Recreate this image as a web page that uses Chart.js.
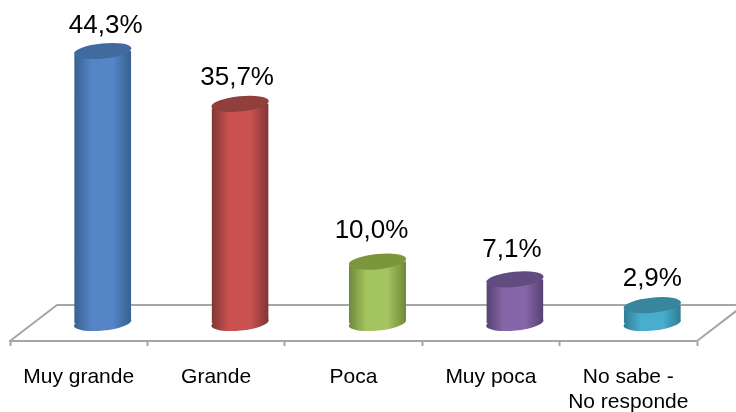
<!DOCTYPE html>
<html>
<head>
<meta charset="utf-8">
<style>html,body{margin:0;padding:0;background:#fff}canvas{display:block}</style>
<script src="https://cdn.jsdelivr.net/npm/chart.js@4/dist/chart.umd.min.js"></script>
</head>
<body>
<canvas id="c" width="736" height="412"></canvas>
<script>
const categories = ["Muy grande", "Grande", "Poca", "Muy poca", ["No sabe -", "No responde"]];
const values = [44.3, 35.7, 10.0, 7.1, 2.9];
const valueLabels = ["44,3%", "35,7%", "10,0%", "7,1%", "2,9%"];

const centerColors = ["#5585c6", "#c95250", "#a3c45e", "#8666a8", "#49aecd"];
const edgeColors   = ["#38608f", "#7f3634", "#6f883b", "#564172", "#2f7d93"];
const topColors    = ["#416b9e", "#913f3d", "#7c963c", "#614c82", "#37869e"];
const labelShiftX  = [3, -3, -6, -3, 0];
const labelGapY    = [25, 26, 31, 30, 26];

const FLOOR_DX = 47, FLOOR_DY = 36;
const BAR_DX = 24, BAR_DY = 18;
const RY = 7.6, TILT = -0.1;
const GRAY = "#a6a6a6";

function cylGradient(c, x, w, i) {
  const g = c.createLinearGradient(x - w / 2, 0, x + w / 2, 0);
  g.addColorStop(0, edgeColors[i]);
  g.addColorStop(0.3, centerColors[i]);
  g.addColorStop(0.68, centerColors[i]);
  g.addColorStop(1, edgeColors[i]);
  return g;
}

const cylinders = {
  id: "cylinders",
  beforeDatasetsDraw(chart) {
    const c = chart.ctx, a = chart.chartArea;
    const els = chart.getDatasetMeta(0).data;
    c.save();
    c.strokeStyle = GRAY; c.lineWidth = 2;
    c.beginPath();
    c.moveTo(a.left, a.bottom);
    c.lineTo(a.left + FLOOR_DX, a.bottom - FLOOR_DY);
    c.lineTo(a.right + FLOOR_DX, a.bottom - FLOOR_DY);
    c.lineTo(a.right, a.bottom);
    c.stroke();
    c.restore();
    c.save();
    c.translate(BAR_DX, -BAR_DY);
    els.forEach((el, i) => {
      const w = el.width;
      c.fillStyle = cylGradient(c, el.x, w, i);
      c.beginPath();
      c.ellipse(el.x, el.base, w / 2 + 0.3, RY, TILT, 0, Math.PI * 2);
      c.fill();
    });
    c.save();
    c.beginPath();
    els.forEach(el => {
      const hw = el.width / 2, d = hw * Math.tan(-TILT);
      c.moveTo(el.x - hw, el.y + d + 1.5);
      c.lineTo(el.x + hw, el.y - d + 1.5);
      c.lineTo(el.x + hw, el.base - d - 1);
      c.lineTo(el.x - hw, el.base + d - 1);
      c.closePath();
    });
    c.clip();
  },
  afterDatasetsDraw(chart) {
    const c = chart.ctx;
    const els = chart.getDatasetMeta(0).data;
    c.restore();
    els.forEach((el, i) => {
      const w = el.width;
      c.fillStyle = topColors[i];
      c.beginPath();
      c.ellipse(el.x, el.y, w / 2 + 0.3, RY, TILT, 0, Math.PI * 2);
      c.fill();
    });
    c.restore();
    c.save();
    c.fillStyle = "#000";
    c.font = "26px 'Liberation Sans', Arial, sans-serif";
    c.textAlign = "center";
    c.textBaseline = "middle";
    els.forEach((el, i) => {
      c.fillText(valueLabels[i], el.x + BAR_DX + labelShiftX[i], el.y - BAR_DY - labelGapY[i]);
    });
    c.restore();
  }
};

new Chart(document.getElementById("c"), {
  type: "bar",
  data: {
    labels: categories,
    datasets: [{
      data: values,
      borderWidth: 0,
      clip: false,
      barPercentage: 0.415,
      categoryPercentage: 1,
      backgroundColor(ctx) {
        const chart = ctx.chart;
        if (!chart.chartArea) return centerColors[ctx.dataIndex];
        const x = chart.scales.x.getPixelForValue(ctx.dataIndex);
        const w = chart.scales.x.width / categories.length * 0.415;
        return cylGradient(chart.ctx, x, w, ctx.dataIndex);
      }
    }]
  },
  options: {
    responsive: false,
    animation: false,
    events: [],
    layout: { padding: { left: 10, right: 39, top: 34, bottom: 0 } },
    plugins: { legend: { display: false }, tooltip: { enabled: false }, title: { display: false } },
    scales: {
      y: { display: false, min: 0, max: 50 },
      x: {
        afterFit(scale) { scale.height = 71; },
        border: { display: true, color: GRAY, width: 2 },
        grid: { display: true, drawOnChartArea: false, drawTicks: true, tickLength: 5, tickWidth: 2, tickColor: GRAY, color: GRAY },
        ticks: {
          autoSkip: false, maxRotation: 0, minRotation: 0, padding: 19.5, color: "#000",
          font: { family: "'Liberation Sans', Arial, sans-serif", size: 21, lineHeight: 1.16 }
        }
      }
    }
  },
  plugins: [cylinders]
});
</script>
</body>
</html>
